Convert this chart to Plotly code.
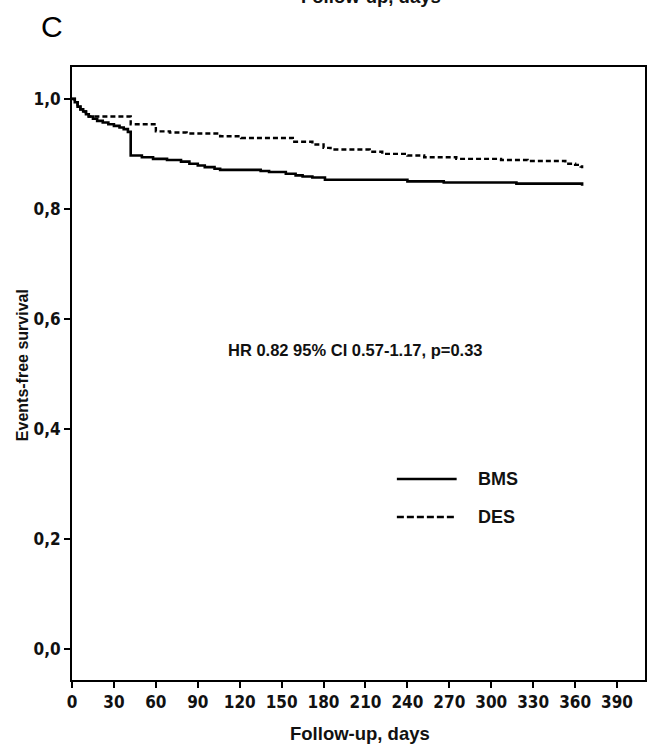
import plotly.graph_objects as go

# ---- data ----
bms_days = [0, 2, 4, 6, 8, 10, 12, 15, 18, 22, 26, 30, 34, 37, 40, 42, 50, 58, 68, 78, 84, 90, 95, 102, 106,
            135, 141, 153, 160, 165, 172, 181, 240, 266, 318, 364, 365]
bms_surv = [1.0, 0.994, 0.986, 0.981, 0.977, 0.972, 0.968, 0.964, 0.960, 0.957, 0.954, 0.951, 0.948, 0.945, 0.940,
            0.897, 0.894, 0.891, 0.889, 0.886, 0.882, 0.879, 0.876, 0.873, 0.871,
            0.869, 0.867, 0.864, 0.861, 0.859, 0.857, 0.853, 0.850, 0.848, 0.846, 0.846, 0.842]

des_days = [0, 2, 4, 6, 8, 10, 12, 42, 60, 70, 82, 106, 121, 158, 172, 180, 185, 213, 222, 240, 252, 275, 307,
            326, 353, 360, 364, 365]
des_surv = [1.0, 0.994, 0.986, 0.981, 0.977, 0.972, 0.968, 0.954, 0.941, 0.939, 0.937, 0.932, 0.929, 0.922,
            0.917, 0.911, 0.908, 0.904, 0.900, 0.897, 0.894, 0.891, 0.889, 0.887, 0.882, 0.880, 0.877, 0.874]

x_ticks = [0, 30, 60, 90, 120, 150, 180, 210, 240, 270, 300, 330, 360, 390]
y_ticks = [0.0, 0.2, 0.4, 0.6, 0.8, 1.0]
y_ticktext = ["0,0", "0,2", "0,4", "0,6", "0,8", "1,0"]

series_names = ["BMS", "DES"]
stat_text = "HR 0.82 95% CI 0.57-1.17, p=0.33"
panel_label = "C"
x_title = "Follow-up, days"
y_title = "Events-free survival"

SANS = "Liberation Sans, Arial, sans-serif"
tick_font = dict(family="DejaVu Sans Condensed, Liberation Sans Narrow, Arial Narrow, sans-serif",
                 size=17, color="#111111", weight="bold")
stat_font = dict(family=SANS, size=16.5, color="#111111", weight="bold")
legend_font = dict(family=SANS, size=18, color="#111111", weight="bold")
xtitle_font = dict(family=SANS, size=18.5, color="#111111", weight="bold")
ytitle_font = dict(family=SANS, size=16, color="#111111", weight="bold")

fig = go.Figure()
fig.add_trace(go.Scatter(x=bms_days, y=bms_surv, mode="lines", line_shape="hv",
                         line=dict(color="black", width=2.6), name=series_names[0], showlegend=False))
fig.add_trace(go.Scatter(x=des_days, y=des_surv, mode="lines", line_shape="hv",
                         line=dict(color="black", width=2.4, dash="5px,3px"), name=series_names[1],
                         showlegend=False))

# plot area: left 72, right 647, top 67, bottom 680 (pixels)
L, R, T, B = 72, 647, 67, 680
W, H = 648, 744


def px(xp):
    return (xp - L) / (R - L)


def py(yp):
    return (B - yp) / (B - T)


# manual legend
fig.add_shape(type="line", xref="paper", yref="paper", x0=px(398), x1=px(458), y0=py(479), y1=py(479),
              line=dict(color="black", width=2.4))
fig.add_shape(type="line", xref="paper", yref="paper", x0=px(398), x1=px(458), y0=py(517), y1=py(517),
              line=dict(color="black", width=2.3, dash="7px,3px"))
fig.add_annotation(xref="paper", yref="paper", x=px(477), y=py(479), text=series_names[0], showarrow=False,
                   xanchor="left", yanchor="middle", font=legend_font)
fig.add_annotation(xref="paper", yref="paper", x=px(477), y=py(517), text=series_names[1], showarrow=False,
                   xanchor="left", yanchor="middle", font=legend_font)

fig.add_annotation(xref="paper", yref="paper", x=px(356), y=py(350), text=stat_text, showarrow=False,
                   xanchor="center", yanchor="middle", font=stat_font)
fig.add_annotation(xref="paper", yref="paper", x=px(39), y=py(26), text=panel_label, showarrow=False,
                   xanchor="left", yanchor="middle",
                   font=dict(family=SANS, size=30, color="black"))
# clipped title from the panel above
fig.add_annotation(xref="paper", yref="paper", x=px(372), y=py(-3), text=x_title, showarrow=False,
                   xanchor="center", yanchor="middle", font=xtitle_font)
# bottom x-axis title
fig.add_annotation(xref="paper", yref="paper", x=px(361), y=py(733), text=x_title, showarrow=False,
                   xanchor="center", yanchor="middle", font=xtitle_font)
# y-axis title
fig.add_annotation(xref="paper", yref="paper", x=px(22), y=py(365), text=y_title, showarrow=False,
                   textangle=-90, xanchor="center", yanchor="middle", font=ytitle_font)

fig.update_layout(
    width=W, height=H,
    margin=dict(l=L, r=W - R, t=T, b=H - B),
    paper_bgcolor="white", plot_bgcolor="white",
    showlegend=False,
)
fig.update_xaxes(range=[0, 410], tickvals=x_ticks, ticks="outside", ticklen=6, tickwidth=2, tickcolor="black",
                 showline=True, linecolor="black", linewidth=2, mirror=True, showgrid=False, zeroline=False,
                 tickfont=tick_font)
fig.update_yaxes(range=[-0.0565, 1.058], tickvals=y_ticks, ticktext=y_ticktext, ticks="outside", ticklen=6,
                 tickwidth=2, tickcolor="black",
                 showline=True, linecolor="black", linewidth=2, mirror=True, showgrid=False, zeroline=False,
                 tickfont=tick_font)

fig.write_html("out.html")
